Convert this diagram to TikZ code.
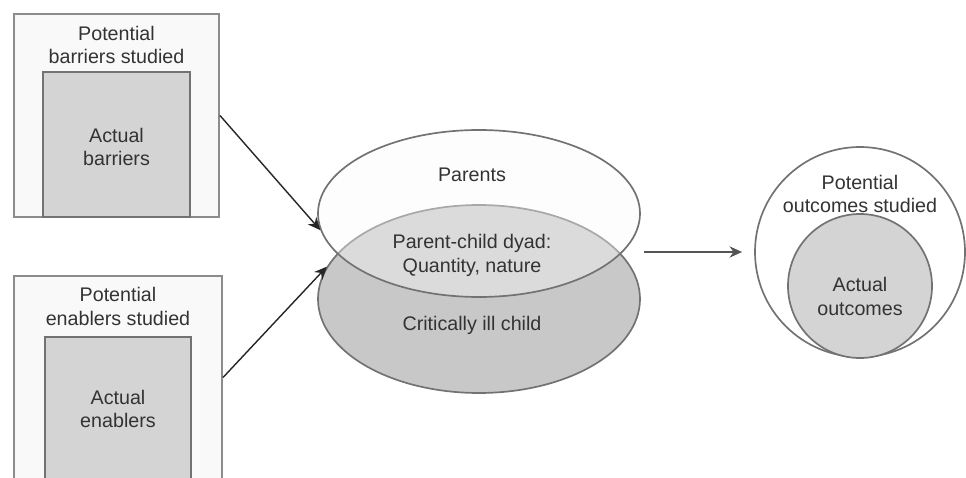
\documentclass[tikz,border=0pt]{standalone}
\usepackage{fontspec}
\setmainfont{Liberation Sans}
\usetikzlibrary{shapes.geometric,arrows.meta}
\definecolor{edgegray}{HTML}{8C8C8C}
\definecolor{rimgray}{HTML}{727272}
\definecolor{paleback}{HTML}{F9F9F9}
\definecolor{boxgray}{HTML}{D4D4D4}
\definecolor{childgray}{HTML}{C8C8C8}
\definecolor{textgray}{HTML}{333333}
\definecolor{arrowgray}{HTML}{555555}
\newcommand{\pxu}{0.025cm}

\begin{document}
\begin{tikzpicture}[x=0.025cm,y=-0.025cm,
  font=\fontsize{14}{17}\selectfont,
  outerbox/.style={draw=edgegray,line width=1.4pt,fill=paleback,inner sep=0pt},
  innerbox/.style={draw=rimgray,line width=1.4pt,fill=boxgray,inner sep=0pt},
  blob/.style={ellipse,draw=rimgray,line width=1.2pt,inner sep=0pt},
  ring/.style={circle,draw=rimgray,line width=1.2pt,inner sep=0pt},
  lbl/.style={align=center,text=textgray,inner sep=0pt},
  flow/.style={-{Stealth[length=9pt,width=8pt]},draw=black!85,line width=1pt}]
\useasboundingbox (0,0) rectangle (966,478);
\clip (0,0) rectangle (966,478);
% barriers
\node[outerbox,minimum width=205*\pxu,minimum height=203*\pxu] (barpot) at (116.5,115.5) {};
\node[innerbox,minimum width=147*\pxu,minimum height=145*\pxu] (baract) at (116.5,144.5) {};
\node[lbl] (barpottxt) at (116.5,45) {Potential\\barriers studied};
\node[lbl] (baracttxt) at (116.5,147) {Actual\\barriers};
% enablers
\node[outerbox,minimum width=208*\pxu,minimum height=203*\pxu] (enapot) at (118,377.5) {};
\node[innerbox,minimum width=146*\pxu,minimum height=142*\pxu] (enaact) at (118,408) {};
\node[lbl] (enapottxt) at (118,306.5) {Potential\\enablers studied};
\node[lbl] (enaacttxt) at (118,409) {Actual\\enablers};
% parents and child
\node[blob,fill=childgray,minimum width=322*\pxu,minimum height=188*\pxu] (child) at (479,299) {};
\node[blob,fill=paleback,fill opacity=0.4,minimum width=322*\pxu,minimum height=167*\pxu] (parents) at (479,213.5) {};
\node[lbl] (parentstxt) at (472,175) {Parents};
\node[lbl] (dyadtxt) at (472,255) {Parent-child dyad:\\Quantity, nature};
\node[lbl] (childtxt) at (472,325) {Critically ill child};
% outcomes
\node[ring,fill=white,minimum size=210*\pxu] (outpot) at (860,252) {};
\node[ring,fill=boxgray,minimum size=144*\pxu] (outact) at (860,286) {};
\node[lbl] (outpottxt) at (860,194) {Potential\\outcomes studied};
\node[lbl] (outacttxt) at (860,296.5) {Actual\\outcomes};
% arrows
\draw[flow] (barpot.east) -- (parents.186);
\draw[flow] (enapot.east) -- (child.168);
\draw[flow,draw=arrowgray,line width=1.4pt,shorten <=0.075cm,shorten >=0.3cm] (parents.east |- outpot.west) -- (outpot.west);
\end{tikzpicture}
\end{document}
